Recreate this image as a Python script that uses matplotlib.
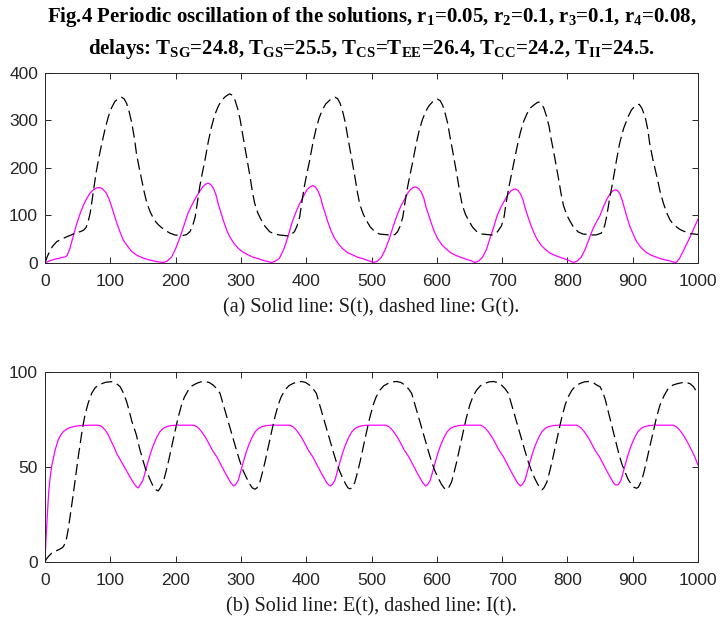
import matplotlib
matplotlib.use("Agg")
import matplotlib.pyplot as plt

plt.rcParams['mathtext.fontset'] = 'custom'
plt.rcParams['mathtext.rm'] = 'Liberation Serif:bold'
plt.rcParams['mathtext.bf'] = 'Liberation Serif:bold'
plt.rcParams['mathtext.it'] = 'Liberation Serif:bold'

# ---- Data (a): S(t) solid, G(t) dashed ----
t_S = [0, 8, 15, 25, 31, 34, 38, 43, 48, 54, 59, 64, 69, 74, 79, 83, 87, 91, 94, 98, 102, 106, 110, 115, 120, 126, 133, 141, 151, 161, 171, 178, 181,
       187, 194, 200, 207, 213, 219, 226, 232, 238, 242, 246, 250, 254, 258, 262, 265, 269, 273, 278, 283, 290, 296, 303, 311, 319, 327, 335, 342, 347,
       353, 359, 366, 372, 378, 384, 390, 396, 401, 406, 410, 414, 418, 422, 425, 429, 433, 438, 443, 450, 456, 463, 471, 479, 487, 495, 500, 503,
       509, 515, 521, 527, 533, 539, 545, 551, 556, 560, 564, 568, 572, 576, 580, 583, 587, 591, 596, 601, 608, 614, 621, 629, 637, 645, 652, 655, 658,
       664, 670, 676, 681, 687, 692, 698, 704, 709, 713, 717, 720, 724, 728, 732, 735, 739, 743, 748, 753, 760, 766, 773, 781, 789, 797, 803, 806, 809,
       815, 821, 827, 833, 838, 842, 846, 850, 855, 860, 864, 868, 871, 874, 877, 880, 884, 888, 892, 896, 901, 906, 913, 921, 929, 937, 945, 952, 958, 962, 966,
       971, 977, 982, 988, 994, 1000]
S = [0, 5, 8, 11, 13, 16, 30, 55, 80, 105, 122, 136, 147, 154, 158, 159, 157, 152, 147, 135, 119, 101, 84, 65, 48, 36, 24, 16, 10, 6, 3, 1.5, 1,
     4, 13, 30, 55, 80, 105, 125, 140, 153, 161, 166, 168, 165, 157, 143, 126, 108, 90, 70, 55, 40, 31, 23, 17, 12, 9, 5, 3, 1,
     4, 10, 30, 55, 84, 106, 125, 141, 154, 160, 163, 160, 152, 138, 122, 105, 87, 68, 53, 39, 30, 22, 17, 12, 9, 5, 3, 1,
     4, 12, 28, 50, 76, 100, 120, 135, 148, 155, 159, 160, 157, 150, 137, 120, 103, 86, 67, 52, 38, 30, 22, 16, 12, 8, 5, 3, 1,
     4, 12, 28, 50, 75, 98, 117, 132, 144, 151, 155, 156, 153, 146, 133, 117, 100, 84, 66, 51, 37, 29, 21, 16, 12, 8, 5, 3, 1,
     4, 12, 28, 50, 68, 80, 90, 100, 118, 133, 143, 150, 153, 154, 152, 147, 132, 112, 93, 76, 60, 45, 32, 22, 16, 12, 8, 6, 4, 2, 1,
     8, 24, 38, 55, 74, 92]

t_G = [0, 3, 8, 12, 18, 25, 33, 40, 48, 54, 59, 63, 66, 69, 71.5, 75, 79, 83, 87, 92, 97, 102, 107, 112, 117, 121, 125, 129, 133, 137, 140, 144, 148, 152, 156, 161, 166, 170, 174, 179, 184, 191, 199, 206, 212,
       217, 222, 226, 230, 233, 237, 241, 245, 250, 255, 260, 265, 270, 276, 280, 283, 287, 291, 295, 299, 302, 306, 310, 314, 317, 321, 326, 331, 337, 344, 351, 359, 366, 372,
       377, 382, 386, 390, 393, 397, 401, 405, 410, 415, 420, 425, 430, 437, 441, 444, 448, 452, 456, 460, 463, 467, 471, 475, 478, 482, 487, 492, 498, 505, 512, 520, 527, 533,
       536, 540, 544, 548, 551, 555, 559, 563, 568, 573, 578, 583, 588, 594, 598, 601, 605, 609, 613, 617, 620, 624, 628, 632, 635, 639, 644, 649, 655, 662, 669, 677, 684,
       688, 693, 699, 703, 706, 710, 714, 718, 723, 728, 733, 738, 743, 749, 753, 756, 760, 764, 768, 772, 775, 779, 783, 787, 790, 794, 799, 804, 810, 817, 824, 831, 838, 843,
       846, 852, 857, 860, 864, 870, 875, 880, 886, 893, 898, 903, 907, 910, 914, 919, 923, 926, 931, 937, 942, 947, 952, 957, 962, 967, 972, 978, 988, 1000]
G = [0, 12, 27, 36, 45, 50, 55, 59, 64, 66, 69, 75, 87, 104, 126, 160, 196, 225, 252, 282, 308, 327, 340, 346, 349, 346, 336, 318, 294, 262, 231, 202, 175, 149, 126, 108, 94, 86, 80, 74, 69, 63, 59, 58, 58,
     60, 66, 78, 97, 125, 161, 190, 217, 255, 287, 312, 329, 342, 350, 354, 356, 353, 343, 325, 301, 276, 245, 213, 182, 155, 126, 105, 91, 77, 66, 61, 59, 58, 57,
     60, 66, 78, 97, 125, 160, 188, 214, 251, 282, 306, 323, 335, 344, 347, 349, 346, 336, 318, 295, 270, 240, 209, 178, 152, 124, 104, 90, 76, 66, 61, 60, 59, 59,
     60, 66, 78, 97, 125, 158, 186, 212, 248, 279, 302, 319, 331, 340, 343, 345, 342, 332, 314, 292, 267, 238, 207, 176, 150, 122, 102, 89, 75, 65, 61, 60, 59,
     60, 66, 78, 97, 125, 157, 184, 210, 245, 275, 298, 314, 326, 333, 337, 339, 336, 326, 309, 287, 262, 234, 204, 173, 148, 121, 101, 88, 74, 65, 61, 60, 59, 59,
     60, 63, 78, 97, 130, 175, 215, 252, 283, 308, 322, 330, 333, 334, 326, 308, 282, 252, 217, 182, 150, 126, 106, 91, 82, 76, 71, 67, 62, 60]

# ---- Data (b): E(t) solid, I(t) dashed ----
t_E = [0, 1.5, 3.6, 5.5, 7.7, 10, 12.8, 16, 20, 24, 28, 33, 38, 46, 54, 70, 80, 84, 88, 92, 96, 99.5, 105, 110, 115, 120, 125, 130, 134, 138, 141, 143,
       146, 150, 154, 158, 162, 166, 171, 176, 181, 186, 193, 201, 228, 232, 236, 240, 245, 250, 256, 263, 269, 275, 280, 284, 287, 289,
       292, 296, 300, 304, 308, 312, 317, 322, 327, 332, 339, 347, 375, 379, 383, 387, 392, 397, 403, 410, 416, 422, 427, 431, 434, 437,
       440, 444, 448, 452, 456, 460, 465, 470, 475, 480, 487, 495, 522, 526, 530, 534, 539, 544, 550, 557, 563, 569, 574, 578, 581, 583,
       586, 590, 594, 598, 602, 606, 611, 616, 621, 626, 633, 641, 667, 671, 675, 679, 684, 689, 695, 702, 708, 714, 719, 723, 726, 728,
       731, 735, 739, 743, 747, 751, 756, 761, 766, 771, 778, 786, 814, 818, 822, 826, 831, 836, 842, 849, 855, 861, 866, 870, 873, 875,
       878, 882, 886, 890, 894, 898, 903, 908, 913, 918, 925, 933, 962, 966, 970, 974, 979, 984, 990, 995, 1000]
E = [0, 12, 25, 36, 44, 50, 54.6, 59.5, 64, 66.8, 68.6, 69.9, 70.7, 71.4, 71.8, 72, 72, 71.8, 71, 69.5, 67.5, 65, 61, 57, 54, 51, 48, 45, 42.5, 40.5, 39.3, 39,
     40.8, 43, 48, 53, 57.6, 61.6, 65.5, 68.6, 70.3, 71.2, 71.8, 72, 72, 71.3, 70.2, 68.5, 66, 63, 59, 55.4, 51.5, 47.5, 44.5, 42, 40.7, 40,
     40.8, 43, 48, 53, 57.6, 61.6, 65.5, 68.6, 70.3, 71.2, 71.8, 72, 72, 71.3, 70.2, 68.5, 66, 63, 59, 55.4, 51.5, 47.5, 44.5, 42, 40.7, 40,
     40.8, 43, 48, 53, 57.6, 61.6, 65.5, 68.6, 70.3, 71.2, 71.8, 72, 72, 71.3, 70.2, 68.5, 66, 63, 59, 55.4, 51.5, 47.5, 44.5, 42, 40.7, 40,
     40.8, 43, 48, 53, 57.6, 61.6, 65.5, 68.6, 70.3, 71.2, 71.8, 72, 72, 71.3, 70.2, 68.5, 66, 63, 59, 55.4, 51.5, 47.5, 44.5, 42, 40.7, 40,
     40.8, 43, 48, 53, 57.6, 61.6, 65.5, 68.6, 70.3, 71.2, 71.8, 72, 72, 71.3, 70.2, 68.5, 66, 63, 59, 55.4, 51.5, 47.5, 44.5, 42, 40.7, 40.5,
     40.8, 43, 48, 53, 57.6, 61.6, 65.5, 68.6, 70.3, 71.2, 71.8, 72, 72, 71.3, 70.2, 68.5, 66, 63, 59, 55.4, 51]

t_I = [0, 2, 5, 10, 15, 20, 25, 28, 31, 33, 35.5, 38, 40.5, 43, 45.5, 48.5, 51, 53.6, 57, 61, 66, 71.5, 77, 84, 93, 102, 109, 115, 120, 125, 129, 133, 136.5, 140, 145, 150.6, 154, 158, 162, 166, 170, 173.5,
       176.5, 181, 184.5, 189, 193.5, 199, 203.5, 209, 213.5, 219.5, 225.5, 232, 238.5, 245, 251.5, 258, 263.5, 268, 272.5, 278, 283, 288, 293.5, 298.6, 303.5, 309, 313.5, 317.5, 321.6,
       324.6, 329, 332.5, 337, 341.5, 347, 351.5, 357, 361.5, 367.5, 373.5, 380, 386.5, 393, 399, 405.5, 411, 415.5, 420, 425.5, 430.5, 435.5, 441, 446, 451, 456, 460.5, 464, 467,
       470, 474.5, 478, 482.5, 487, 492.5, 497, 502.5, 507, 513, 519, 525.5, 532, 538.5, 545, 551.5, 557, 561.5, 566, 571.5, 576.5, 581.5, 587, 592, 597, 602.5, 607, 611, 615,
       618, 622.5, 626, 630.5, 635, 640.5, 645, 650.5, 655, 661, 667, 673.5, 680, 686.5, 693, 699.5, 705, 709.5, 714, 719.5, 724.5, 729.5, 735, 740, 745, 750, 754.5, 758, 761,
       764, 768.5, 772, 776.5, 781, 786.5, 791, 796.5, 801, 807, 813, 819.5, 826, 832.5, 839, 845.5, 850, 854, 857.6, 862, 868, 873, 878, 883, 888, 893, 898.5, 902, 906,
       909, 913.8, 917, 921, 926, 931.5, 936, 941.8, 948, 954.5, 962, 970, 976, 982.7, 988, 993, 1000]
I = [0, 1.5, 2.8, 4.6, 5.6, 6.3, 7.2, 8, 10, 12.5, 17, 23, 29, 35, 41.5, 49, 55.5, 61.6, 69.5, 77, 83.5, 88.8, 91.8, 93.5, 94.6, 94.9, 94, 92.3, 89, 84.4, 79.5, 74, 70.5, 66.8, 59.5, 52.8, 49, 45.8, 42.5, 39.6, 38, 37.4,
     39, 42, 46.5, 52.8, 60, 68.6, 75.5, 82.6, 86.8, 90.5, 92.8, 94, 94.8, 95, 94.5, 93, 91, 88.8, 83.5, 77, 71, 65, 58.5, 52.8, 48, 44, 41, 39, 38.3,
     39, 42, 46.5, 52.8, 60, 68.6, 75.5, 82.6, 86.8, 90.5, 92.8, 94, 94.8, 95, 94.5, 93, 91, 88.8, 83.5, 77, 71, 65, 58.5, 52.8, 48, 44, 41, 39, 38.5,
     39, 42, 46.5, 52.8, 60, 68.6, 75.5, 82.6, 86.8, 90.5, 92.8, 94, 94.8, 95, 94.5, 93, 91, 88.8, 83.5, 77, 71, 65, 58.5, 52.8, 48, 44, 41, 39, 38,
     39, 42, 46.5, 52.8, 60, 68.6, 75.5, 82.6, 86.8, 90.5, 92.8, 94, 94.8, 95, 94.5, 93, 91, 88.8, 83.5, 77, 71, 65, 58.5, 52.8, 48, 44, 41, 39, 38,
     39, 42, 46.5, 52.8, 60, 68.6, 75.5, 82.6, 86.8, 90.5, 92.8, 94, 94.8, 95, 94.5, 93, 92.3, 89.5, 86, 80, 72, 65, 58, 52, 47.5, 43.5, 40.5, 39.3, 38.8,
     39.5, 43, 47, 52.8, 60.5, 68.6, 75.5, 82.6, 87.5, 91.4, 93.2, 94, 94.4, 94.5, 93.8, 92.3, 88.5]

xticks = [0, 100, 200, 300, 400, 500, 600, 700, 800, 900, 1000]
yticks_a = [0, 100, 200, 300, 400]
yticks_b = [0, 50, 100]

title_lines = ["Fig.4 Periodic oscillation of the solutions, r$_1$=0.05, r$_2$=0.1, r$_3$=0.1, r$_4$=0.08,",
               "delays: T$_{SG}$=24.8, T$_{GS}$=25.5, T$_{CS}$=T$_{EE}$=26.4, T$_{CC}$=24.2, T$_{II}$=24.5."]
cap_a = "(a) Solid line: S(t), dashed line: G(t)."
cap_b = "(b) Solid line: E(t), dashed line: I(t)."

W, H = 721, 619
fig = plt.figure(figsize=(W / 100, H / 100), dpi=100)

def ax_at(l, t, r, b):
    return fig.add_axes([l / W, 1 - b / H, (r - l) / W, (b - t) / H])

axc = '#262626'
def style(ax, yt, ylim):
    ax.set_xlim(0, 1000)
    ax.set_ylim(*ylim)
    ax.set_xticks(xticks)
    ax.set_yticks(yt)
    ax.tick_params(direction='in', top=True, right=True, length=4.5, width=0.7,
                   colors=axc, labelsize=12.5)
    ax.tick_params(axis='x', pad=8)
    ax.tick_params(axis='y', pad=5)
    for lab in ax.get_xticklabels() + ax.get_yticklabels():
        lab.set_fontfamily('Liberation Sans')
        lab.set_color(axc)
    for s in ax.spines.values():
        s.set_color(axc)
        s.set_linewidth(0.7)

ax1 = ax_at(45, 73, 698, 263)
ax1.plot(t_S, S, color='#FF00FF', lw=0.9)
ax1.plot(t_G, G, color='black', lw=0.9, dashes=(9, 4))
style(ax1, yticks_a, (0, 400))

ax2 = ax_at(45, 372, 698, 562)
ax2.plot(t_E, E, color='#FF00FF', lw=0.9)
ax2.plot(t_I, I, color='black', lw=0.9, dashes=(9, 4))
style(ax2, yticks_b, (0, 100))

cx = (45 + 698) / 2 / W
fig.text(cx, 1 - 17 / H, title_lines[0], ha='center', va='center',
         fontfamily='Liberation Serif', fontweight='bold', fontsize=15)
fig.text(cx, 1 - 49 / H, title_lines[1], ha='center', va='center',
         fontfamily='Liberation Serif', fontweight='bold', fontsize=15)
fig.text(cx, 1 - 308 / H, cap_a, ha='center', va='center',
         fontfamily='Liberation Serif', fontsize=14.5, color='#1a1a1a')
fig.text(cx, 1 - 607 / H, cap_b, ha='center', va='center',
         fontfamily='Liberation Serif', fontsize=14.5, color='#1a1a1a')

fig.savefig('out.png', dpi=100)
